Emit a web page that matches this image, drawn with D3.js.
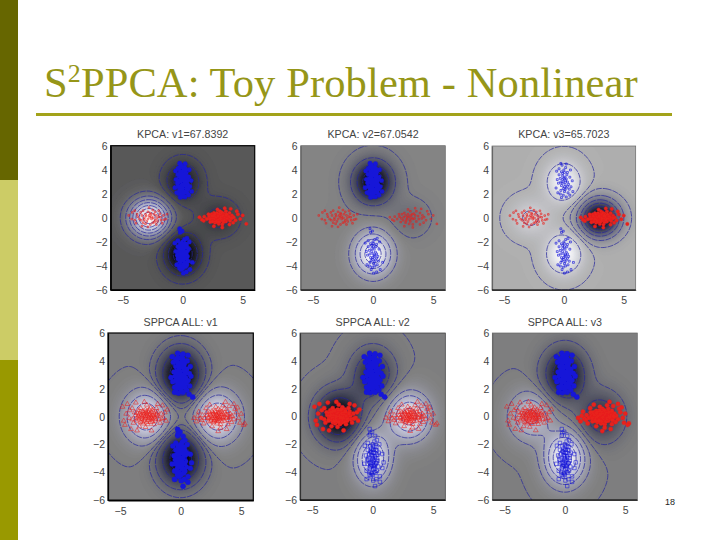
<!DOCTYPE html>
<html><head><meta charset="utf-8">
<style>html,body{margin:0;padding:0;background:#fff}svg{display:block}</style>
<script src="https://d3js.org/d3.v7.min.js"></script></head><body><svg id="c" width="720" height="540"></svg>
<script>
const titleMain = "PPCA: Toy Problem - Nonlinear";
const pageNumber = "18";
const panelTitles = ["KPCA: v1=67.8392","KPCA: v2=67.0542","KPCA: v3=65.7023","SPPCA ALL: v1","SPPCA ALL: v2","SPPCA ALL: v3"];
const xTicks = [-5,0,5];
const yTicks = [-6,-4,-2,0,2,4,6];
// cluster order: left red, top blue, right red, bottom blue
const centers = [[-2.8,0],[0,3],[3,0],[0,-3]];
const amps = [
 [1,-0.35,-0.2,-0.54],
 [-0.01,-1,-0.16,0.92],
 [0.2,0.42,-1,0.45],
 [0.85,-1,0.85,-1],
 [-1,-0.6,0.85,0.85],
 [0.55,-0.85,-0.55,1]
];
const colorLow = [-0.54,-1,-1,-1,-1,-1];
const colorHigh = [1,0.92,0.45,1,1,1];
const sigmaX = [[1.12,1.03,1.12,1.03],[1.12,1.12,1.12,1.06],[1.12,1.03,1.12,1.03],[1.22,1.2,1.22,1.2],[1.22,1.2,1.22,1.02],[1.22,1.2,1.22,1.12]];
const sigmaY = [[1.05,1.15,1.05,1.15],[1.05,1.2,1.05,1.2],[1.05,1.15,1.05,1.15],[1.2,1.25,1.2,1.25],[1.2,1.25,1.2,1.25],[1.2,1.25,1.2,1.25]];
const contourLevels = [
 [-0.4,-0.27,-0.15,-0.05,0.1,0.22,0.35,0.48,0.62,0.76,0.9],
 [-0.75,-0.5,-0.25,-0.04,0.15,0.35,0.55,0.75],
 [-0.8,-0.65,-0.5,-0.35,-0.2,-0.06,0.015,0.17],
 [-0.75,-0.45,-0.2,-0.08,0.003,0.15,0.35,0.6],
 [-0.8,-0.55,-0.3,-0.12,-0.004,0.22,0.38,0.58,0.75],
 [-0.6,-0.35,-0.12,0.003,0.15,0.32,0.5,0.7,0.88]
];
// marker density for each cluster in each panel: 1 = solid core, 0 = open
const solidFlags = [[0,1,1,1],[0,1,0,0],[0,0,1,0],[0,1,0,1],[1,1,0,0],[0,1,1,0]];
const panelLeft = [110.7,300.7,492,108,300,492.3];
const panelRight = [254.7,445.3,635.7,253.3,445.3,637.3];
const panelTop = [145.7,145.7,146,333,333,333];
const panelBottom = [290,290,290,500.3,500,500];
const borderColor = ["#000","#666","#666","#000","#333","#666"];

const redLeft = [[-2.6,0.1],[-3.1,0.3],[-2.3,-0.2],[-2.9,-0.1],[-3.4,0.2],[-2.0,0.1],[-2.7,0.4],[-3.0,-0.3],[-2.4,0.3],[-3.6,-0.1],[-1.8,-0.2],[-2.2,0.2],[-3.2,0.0],[-2.8,0.2],[-2.5,-0.4],[-3.3,-0.4],[-1.6,0.2],[-3.8,0.3],[-2.1,-0.3],[-2.9,0.5],[-1.4,-0.1],[-4.0,-0.2],[-2.6,-0.1],[-3.5,0.45],[-2.3,0.5],[-1.9,0.35],[-3.1,-0.5],[-2.7,-0.55],[-4.2,0.45],[-4.5,0.2],[-3.9,-0.45],[-1.3,0.3],[-1.7,-0.45],[-3.3,0.6],[-2.5,0.65],[-2.2,-0.55],[-2.9,-0.75],[-3.4,-0.7],[-2.0,0.6],[-2.8,0.85]];
const redLeftWide = [[-4.8,0.7],[-4.7,-0.3],[-4.4,0.9],[-4.6,-0.6],[-4.1,-0.9],[-1.1,0.5],[-1.2,-0.3],[-1.5,0.8],[-1.9,0.9],[-3.7,1.0],[-3.0,1.05],[-2.4,-1.0],[-3.6,-1.0],[-3.2,-0.15],[-2.75,0.05],[-2.45,0.0],[-2.15,-0.05],[-3.45,-0.2],[-2.65,0.3],[-3.05,0.15],[-2.35,-0.35],[-3.75,0.1],[-1.85,0.05],[-1.55,-0.15],[-4.25,-0.1],[-4.0,0.6]];
const redLeftCore = [[-2.9,0.05],[-2.55,0.2],[-3.25,0.1],[-2.35,0.1],[-3.0,-0.2],[-2.7,-0.25],[-3.4,-0.05],[-2.1,-0.15],[-2.85,0.35],[-3.15,-0.35],[-2.5,-0.2],[-3.55,0.25],[-2.25,0.35],[-2.95,0.25],[-2.65,-0.05],[-3.3,0.35],[-1.95,0.2],[-3.65,-0.3],[-2.8,-0.4],[-2.4,-0.1],[-3.1,0.4],[-2.6,0.5],[-3.0,0.0],[-2.2,0.05],[-3.5,0.05]];
const redRight = [[3.0,0.1],[3.3,-0.1],[2.7,0.2],[3.5,0.2],[2.5,-0.2],[3.1,-0.3],[3.8,-0.1],[2.9,0.3],[3.4,0.35],[2.2,0.1],[4.1,0.2],[3.6,-0.3],[2.6,0.4],[3.2,0.0],[2.8,-0.1],[4.4,-0.2],[2.0,-0.1],[3.9,0.4],[1.8,0.1],[3.0,-0.5],[2.4,0.3],[4.6,0.3],[1.6,-0.15],[3.6,0.55],[3.1,0.55],[2.7,-0.4],[4.2,-0.4],[4.8,-0.1],[3.3,-0.55],[2.3,-0.35],[5.0,0.2],[5.3,-0.5],[1.4,0.05],[3.9,-0.55],[2.9,0.7],[3.5,0.8],[4.0,0.75],[2.6,-0.7],[3.3,-0.8],[4.5,0.55]];
const redRightWide = [[1.1,-0.1],[1.3,-0.35],[1.5,0.35],[1.9,-0.5],[2.1,0.6],[2.4,0.85],[4.4,0.9],[4.7,0.65],[4.9,-0.45],[5.2,-0.6],[3.8,-0.9],[3.1,-1.05],[3.7,1.05],[2.85,0.05],[3.15,0.2],[2.55,0.05],[3.45,-0.05],[3.05,-0.15],[2.35,-0.05],[3.75,0.15],[4.05,-0.05],[2.75,-0.25],[3.25,0.3],[1.75,-0.25],[4.25,0.05],[2.15,0.3]];
const redRightCore = [[3.05,0.0],[3.35,0.15],[2.75,0.05],[3.55,0.0],[2.95,-0.2],[3.2,-0.2],[2.6,-0.1],[3.65,0.3],[3.1,0.3],[2.45,0.15],[3.85,0.1],[3.4,-0.35],[2.85,0.4],[3.25,0.45],[2.65,0.3],[3.95,-0.25],[2.25,-0.1],[3.0,-0.35],[3.5,-0.15],[2.8,-0.3],[3.7,-0.05],[2.95,0.15],[3.15,-0.05],[2.5,-0.3],[4.1,0.0]];
const blueTop = [[0.0,3.0],[0.1,3.4],[-0.2,2.7],[0.2,2.5],[-0.1,3.7],[0.3,3.0],[-0.3,3.3],[0.05,2.2],[-0.25,2.3],[0.3,3.8],[0.0,4.0],[-0.4,3.6],[0.4,2.8],[-0.45,2.9],[0.15,4.2],[-0.15,4.4],[0.5,3.4],[0.35,2.1],[-0.05,1.9],[-0.5,2.1],[-0.4,4.1],[0.55,4.0],[0.1,2.8],[-0.1,3.2],[0.25,3.6],[-0.3,2.0],[0.45,2.4],[-0.55,3.2],[0.7,3.1],[-0.6,3.9],[0.2,4.5],[-0.25,4.55],[0.6,2.6],[-0.65,2.5],[0.2,1.75],[-0.2,1.7],[0.5,1.9],[0.75,2.2]];
const blueTopWide = [[0.8,3.6],[-0.7,4.3],[0.6,4.4],[-0.8,2.8],[0.85,2.9],[-0.5,1.75],[0.7,1.6],[1.0,1.4],[0.0,3.3],[0.05,2.6],[-0.1,3.5],[0.15,3.1],[-0.15,2.9],[0.2,3.25],[-0.25,3.0],[0.1,2.35],[0.05,3.8],[-0.05,2.45],[-0.2,3.85],[0.3,2.65]];
const blueTopCore = [[0.0,2.8],[-0.05,3.15],[0.1,3.55],[-0.2,3.6],[0.2,2.9],[-0.2,2.5],[0.15,2.15],[-0.1,2.05],[0.3,3.35],[-0.35,3.1],[0.0,4.2],[0.25,4.05],[-0.25,4.2],[0.4,3.15],[-0.4,2.6],[0.05,1.8],[0.35,2.45],[-0.1,2.65],[0.2,3.75],[-0.15,3.35]];
const blueBottom = [[0.0,-3.0],[0.1,-2.6],[-0.2,-3.3],[0.2,-3.5],[-0.1,-2.3],[0.3,-3.0],[-0.3,-2.7],[0.05,-3.8],[-0.25,-3.7],[0.3,-2.2],[0.0,-2.0],[-0.4,-2.4],[0.4,-3.2],[-0.45,-3.1],[0.15,-4.0],[-0.15,-4.3],[0.5,-2.6],[0.35,-3.9],[-0.05,-4.1],[-0.5,-3.9],[-0.4,-1.9],[0.55,-2.0],[0.1,-3.2],[-0.1,-2.8],[0.25,-2.4],[-0.3,-4.0],[0.45,-3.6],[-0.55,-2.8],[0.8,-3.7],[-0.65,-2.1],[0.3,-4.5],[0.05,-4.6],[0.6,-4.3],[-0.2,-1.2],[-0.25,-0.9],[-0.05,-1.1],[0.35,-1.7],[0.15,-1.8]];
const blueBottomWide = [[0.8,-2.7],[-0.7,-3.4],[0.6,-4.7],[-0.5,-4.5],[0.9,-3.3],[0.2,-5.0],[-0.25,-1.35],[0.2,-1.4],[0.0,-3.3],[0.05,-2.4],[-0.1,-2.55],[0.15,-3.1],[-0.15,-3.55],[0.2,-2.85],[-0.25,-3.0],[0.1,-3.65],[0.05,-2.15],[-0.05,-3.45],[-0.2,-2.15],[0.3,-3.35]];
const blueBottomCore = [[0.0,-2.8],[-0.05,-3.15],[0.1,-3.55],[-0.2,-3.6],[0.2,-2.9],[-0.2,-2.5],[0.15,-2.15],[-0.1,-4.05],[0.3,-3.35],[-0.35,-3.1],[0.0,-4.2],[0.25,-4.05],[-0.25,-4.2],[0.4,-2.75],[-0.4,-3.4],[0.05,-2.6],[0.35,-2.45],[-0.1,-2.65],[0.2,-3.75],[-0.15,-3.35]];

const svg = d3.select("#c");
const clusterPoints = [redLeft, blueTop, redRight, blueBottom];
const clusterWide = [redLeftWide, blueTopWide, redRightWide, blueBottomWide];
const clusterCore = [redLeftCore, blueTopCore, redRightCore, blueBottomCore];
const clusterColor = ["#e8201c","#1414d8","#e8201c","#1414d8"];

// slide furniture
[["#666600",0,180],["#cccc66",180,180],["#999900",360,180]].forEach(d=>svg.append("rect").attr("x",0).attr("y",d[1]).attr("width",18).attr("height",d[2]).attr("fill",d[0]));
const title = svg.append("text").attr("x",44).attr("y",97).attr("fill","#969618").attr("font-family","'Liberation Serif'").attr("font-size",42.5).attr("letter-spacing",0.12);
title.append("tspan").text("S");
title.append("tspan").attr("font-size",26).attr("dy",-15).text("2");
title.append("tspan").attr("dy",15).text(titleMain);
svg.append("rect").attr("x",36).attr("y",113).attr("width",636).attr("height",3).attr("fill","#a3a31a");
svg.append("text").attr("x",670).attr("y",505).attr("text-anchor","middle").attr("font-family","'Liberation Sans'").attr("font-size",9).attr("fill","#222").text(pageNumber);

const N = 105, lo = -6.5, hi = 6.5;
const defs = svg.append("defs");
defs.append("filter").attr("id","soft").attr("x","-5%").attr("y","-5%").attr("width","110%").attr("height","110%").append("feGaussianBlur").attr("stdDeviation",0.45);

panelTitles.forEach((name,p)=>{
  const x = d3.scaleLinear([-6,6],[panelLeft[p],panelRight[p]]);
  const y = d3.scaleLinear([-6,6],[panelBottom[p],panelTop[p]]);
  const grid = new Array(N*N);
  for(let j=0;j<N;j++){ for(let i=0;i<N;i++){
    const gx = lo+(hi-lo)*i/(N-1), gy = lo+(hi-lo)*j/(N-1);
    let v = 0;
    centers.forEach((c,k)=>{
      const dx=(gx-c[0])/sigmaX[p][k], dy=(gy-c[1])/sigmaY[p][k];
      v += amps[p][k]*Math.exp(-(dx*dx+dy*dy)/2);
    });
    grid[j*N+i]=v;
  }}
  const vMin = colorLow[p], vMax = colorHigh[p];
  const colorFor = v=>{
    const t = Math.max(0,Math.min(1,(v-vMin)/(vMax-vMin)));
    const g = 255*t;
    const tint = 22*Math.sin(Math.PI*t)*Math.min(1,Math.abs(v)/0.5);
    return d3.rgb(g-tint*0.35,g-tint*0.25,g+tint).formatHex();
  };
  const proj = d3.geoTransform({point(px,py){
    this.stream.point(x(lo+(px-0.5)*(hi-lo)/(N-1)), y(lo+(py-0.5)*(hi-lo)/(N-1)));
  }});
  const path = d3.geoPath(proj);
  const clipId = "clip"+p;
  defs.append("clipPath").attr("id",clipId).append("rect").attr("x",x(-6)).attr("y",y(6)).attr("width",x(6)-x(-6)).attr("height",y(-6)-y(6));
  const g = svg.append("g");
  const plot = g.append("g").attr("clip-path",`url(#${clipId})`).append("g").attr("filter","url(#soft)");
  plot.append("rect").attr("x",x(-6)-4).attr("y",y(6)-4).attr("width",x(6)-x(-6)+8).attr("height",y(-6)-y(6)+8).attr("fill",colorFor(vMin));
  const bands = d3.range(0,128).map(i=>vMin+(vMax-vMin)*(i+0.37)/128);
  const gen = d3.contours().size([N,N]).smooth(true);
  plot.append("g").selectAll("path").data(gen.thresholds(bands)(grid)).join("path")
    .attr("d",path).attr("fill",d=>colorFor(d.value)).attr("stroke",d=>colorFor(d.value)).attr("stroke-width",0.3);
  plot.append("g").selectAll("path").data(gen.thresholds(contourLevels[p])(grid)).join("path")
    .attr("d",path).attr("fill","none").attr("stroke","#24249c").attr("stroke-width",0.8).attr("stroke-dasharray","6 1").attr("opacity",0.9);
  // points
  clusterPoints.forEach((pts,k)=>{
    const isBottomRow = p>=3, isRed = k%2===0, solid = solidFlags[p][k];
    const w = clusterWide[k], core = clusterCore[k];
    const all = isBottomRow ? pts.concat(w,core) : (solid ? pts.concat(w.slice(isRed?13:8),core) : pts.concat(w.slice(isRed?13:8)));
    const size = solid ? (isRed?(isBottomRow?14:9):(isBottomRow?20:15)) : (isBottomRow?(isRed?10:12):(isRed?2.5:3.5));
    const sym = d3.symbol().type(solid?d3.symbolCircle:(isRed&&isBottomRow?d3.symbolTriangle:d3.symbolSquare)).size(size);
    plot.append("g").selectAll("path").data(all).join("path")
      .attr("transform",d=>`translate(${x(d[0])},${y(d[1])})`).attr("d",sym)
      .attr("fill",solid?clusterColor[k]:"none").attr("stroke",clusterColor[k]).attr("stroke-width",solid?0.4:(isBottomRow?0.6:0.7)).attr("opacity",solid?1:0.9);
  });
  // axes
  const font = "'Liberation Sans'";
  const ax = g.append("g").attr("transform",`translate(0,${y(-6)})`).call(d3.axisBottom(x).tickValues(xTicks).tickSize(0).tickPadding(7).tickFormat(d3.format("d")));
  const ay = g.append("g").attr("transform",`translate(${x(-6)},0)`).call(d3.axisLeft(y).tickValues(yTicks).tickSize(0).tickPadding(3).tickFormat(d3.format("d")));
  [ax,ay].forEach(a=>{a.selectAll("text").attr("font-family",font).attr("font-size",10.5).attr("fill","#444");a.select(".domain").attr("stroke",borderColor[p]).attr("stroke-width",1.2);});
  g.append("rect").attr("x",x(-6)).attr("y",y(6)).attr("width",x(6)-x(-6)).attr("height",y(-6)-y(6)).attr("fill","none").attr("stroke",borderColor[p]).attr("stroke-width",p%3===0?1.2:0.7);
  g.append("line").attr("x1",x(-6)).attr("x2",x(6)).attr("y1",y(-6)).attr("y2",y(-6)).attr("stroke","#000").attr("stroke-width",1.2);
  g.append("text").attr("x",(x(-6)+x(6))/2).attr("y",p<3?138:326).attr("text-anchor","middle").attr("font-family",font).attr("font-size",10.7).attr("fill","#444").text(name);
});
</script></body></html>
